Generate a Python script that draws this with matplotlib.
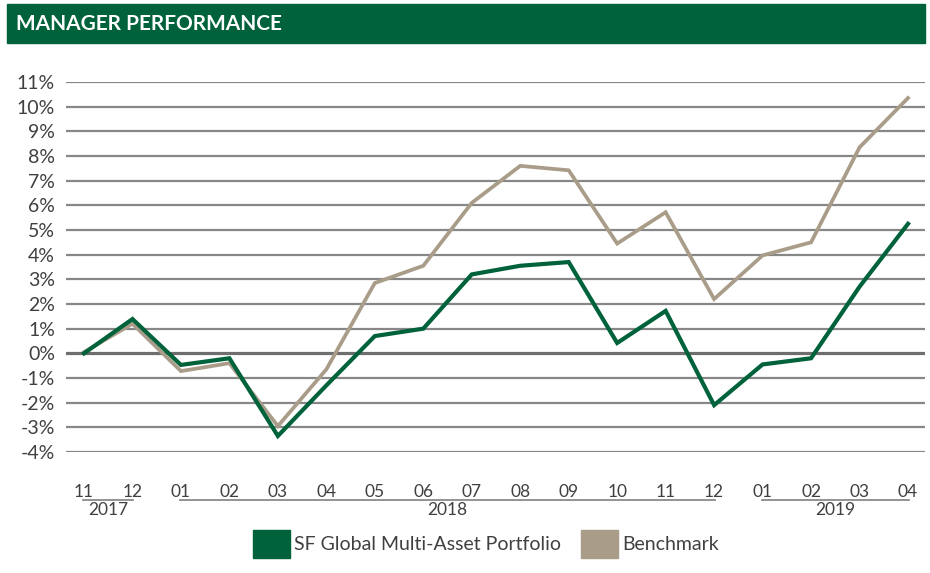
import matplotlib.pyplot as plt
from matplotlib.patches import Patch, Rectangle
from matplotlib.transforms import blended_transform_factory

plt.rcParams['font.family'] = ['Lato', 'DejaVu Sans']

# data (monthly, Nov 2017 .. Apr 2019)
months = ['11', '12', '01', '02', '03', '04', '05', '06', '07', '08', '09',
          '10', '11', '12', '01', '02', '03', '04']
portfolio = [0.0, 1.39, -0.47, -0.2, -3.35, -1.3, 0.7, 1.0, 3.2, 3.55, 3.7,
             0.42, 1.72, -2.1, -0.45, -0.2, 2.7, 5.25]
benchmark = [0.05, 1.2, -0.72, -0.4, -2.95, -0.65, 2.85, 3.55, 6.1, 7.6, 7.42,
             4.45, 5.72, 2.2, 3.97, 4.5, 8.35, 10.35]
years = ['2017', '2018', '2019']
year_spans = [(0, 1), (2, 13), (14, 17)]
y_ticks = list(range(-4, 12))

green = '#00623A'
beige = '#A99D89'
grey_txt = '#404040'

fig = plt.figure(figsize=(9.3, 5.73), dpi=100)

# title bar
fig.patches.append(Rectangle((7 / 930, 1 - 43 / 573), 918 / 930, 39 / 573,
                             transform=fig.transFigure, color=green, zorder=0))
fig.text(16 / 930, 1 - 23.5 / 573, 'MANAGER PERFORMANCE', color='white',
         fontsize=15, fontweight='bold', va='center', ha='left')

ax = fig.add_axes([66 / 930, 1 - 452 / 573, 859 / 930, 370 / 573])
x = list(range(len(months)))
ax.plot(x, benchmark, color=beige, lw=2.7, zorder=3, solid_joinstyle='miter')
ax.plot(x, portfolio, color=green, lw=3.0, zorder=4, solid_joinstyle='miter')

for v in y_ticks:
    if v == 0:
        ax.axhline(v, color='#6E6E6E', lw=2.3, zorder=2)
    else:
        ax.axhline(v, color='#878787', lw=1.6, zorder=1)

ax.set_xlim(-18 / 48.47, 17 + 17 / 48.47)
ax.set_ylim(-4, 11)
ax.set_yticks(y_ticks)
ax.set_yticklabels([f'{v}%' for v in y_ticks], fontsize=14, color=grey_txt)
ax.tick_params(axis='y', length=0, pad=8)
ax.set_xticks([])
for s in ax.spines.values():
    s.set_visible(False)

# month labels and year groups below the axis
tr = blended_transform_factory(ax.transData, fig.transFigure)
for i, m in enumerate(months):
    ax.text(i, 1 - 492 / 573, m, transform=tr, ha='center', va='center',
            fontsize=12.5, color=grey_txt)
for yr, (a, b) in zip(years, year_spans):
    ax.plot([a - 0.02, b + 0.02], [1 - 500 / 573] * 2, transform=tr,
            color='#808080', lw=1.2, clip_on=False)
    ax.text((a + b) / 2, 1 - 510 / 573, yr, transform=tr, ha='center',
            va='center', fontsize=12.5, color=grey_txt)

handles = [Patch(color=green, label='SF Global Multi-Asset Portfolio'),
           Patch(color=beige, label='Benchmark')]
fig.legend(handles=handles, loc='center', bbox_to_anchor=(486 / 930, 1 - 544 / 573),
           ncol=2, frameon=False, fontsize=14, handlelength=1.9,
           handleheight=1.9, handletextpad=0.25, columnspacing=1.0,
           labelcolor=grey_txt)

fig.savefig('out.png', dpi=100)
